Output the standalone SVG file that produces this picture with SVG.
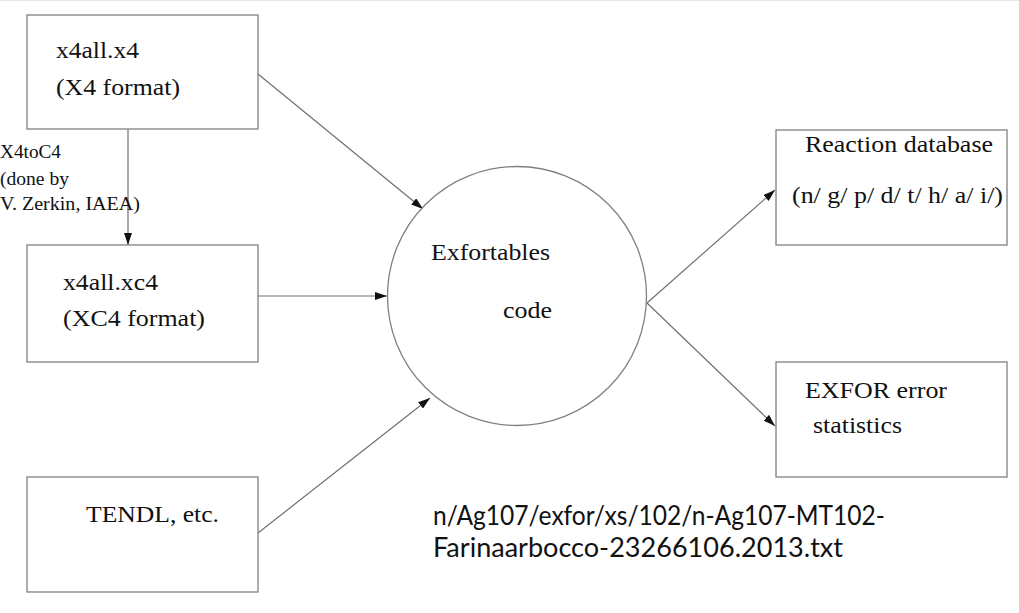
<svg xmlns="http://www.w3.org/2000/svg" width="1019" height="613" viewBox="0 0 1019 613">
<style>
.box{fill:#fff;stroke:#808080;stroke-width:1.3}
.t{font-family:"Liberation Serif","Times New Roman",serif;font-size:24px;fill:#111}
.s{font-family:"Liberation Serif","Times New Roman",serif;font-size:18px;fill:#111}
.c{font-family:Lato,"Noto Sans",sans-serif;font-size:27px;fill:#111}
.e{stroke:#707070;stroke-width:1.2;fill:none;marker-end:url(#ah)}
</style>
<defs>
<marker id="ah" viewBox="0 0 12 8" refX="12" refY="4" markerWidth="12" markerHeight="8" markerUnits="userSpaceOnUse" orient="auto">
<path d="M0,0 L12,4 L0,8 Z" fill="#111"/>
</marker>
</defs>
<rect x="0" y="0" width="1019" height="613" fill="#fff"/>
<line x1="0" y1="0.5" x2="1019" y2="0.5" stroke="#e6e6e6" stroke-width="1"/>
<g id="connectors">
<line class="e" x1="128" y1="129" x2="128" y2="245"/>
<line class="e" x1="258" y1="74" x2="423" y2="209"/>
<line class="e" x1="258" y1="296" x2="387" y2="296"/>
<line class="e" x1="258" y1="533" x2="430" y2="398"/>
<line class="e" x1="647" y1="303" x2="775" y2="190"/>
<line class="e" x1="647" y1="303" x2="775" y2="426"/>
</g>
<g id="label-x4toc4">
<text class="s" x="0" y="158" textLength="61" lengthAdjust="spacingAndGlyphs">X4toC4</text>
<text class="s" x="0" y="185" textLength="69" lengthAdjust="spacingAndGlyphs">(done by</text>
<text class="s" x="0" y="210" textLength="140" lengthAdjust="spacingAndGlyphs">V. Zerkin, IAEA)</text>
</g>
<g id="node-x4">
<rect class="box" x="27" y="15" width="231" height="114"/>
<text class="t" x="56" y="58" textLength="83" lengthAdjust="spacingAndGlyphs">x4all.x4</text>
<text class="t" x="56" y="95" textLength="124" lengthAdjust="spacingAndGlyphs">(X4 format)</text>
</g>
<g id="node-xc4">
<rect class="box" x="27" y="245" width="231" height="117"/>
<text class="t" x="63" y="290" textLength="95" lengthAdjust="spacingAndGlyphs">x4all.xc4</text>
<text class="t" x="63" y="326" textLength="142" lengthAdjust="spacingAndGlyphs">(XC4 format)</text>
</g>
<g id="node-tendl">
<rect class="box" x="27" y="477" width="231" height="115"/>
<text class="t" x="86" y="522" textLength="133" lengthAdjust="spacingAndGlyphs">TENDL, etc.</text>
</g>
<g id="node-exfortables">
<circle class="box" cx="517" cy="296" r="129.5"/>
<text class="t" x="431" y="260" textLength="119" lengthAdjust="spacingAndGlyphs">Exfortables</text>
<text class="t" x="503" y="318" textLength="49" lengthAdjust="spacingAndGlyphs">code</text>
</g>
<g id="node-reaction">
<rect class="box" x="776" y="130" width="231" height="115"/>
<text class="t" x="805" y="152" textLength="188" lengthAdjust="spacingAndGlyphs">Reaction database</text>
<text class="t" x="792" y="203" textLength="211" lengthAdjust="spacingAndGlyphs">(n/ g/ p/ d/ t/ h/ a/ i/)</text>
</g>
<g id="node-exfor">
<rect class="box" x="776" y="362" width="231" height="115"/>
<text class="t" x="805" y="398" textLength="142" lengthAdjust="spacingAndGlyphs">EXFOR error</text>
<text class="t" x="813" y="433" textLength="89" lengthAdjust="spacingAndGlyphs">statistics</text>
</g>
<g id="caption">
<text class="c" x="433" y="525" textLength="452" lengthAdjust="spacingAndGlyphs">n/Ag107/exfor/xs/102/n-Ag107-MT102-</text>
<text class="c" x="433" y="557" textLength="410" lengthAdjust="spacingAndGlyphs">Farinaarbocco-23266106.2013.txt</text>
</g>
</svg>
